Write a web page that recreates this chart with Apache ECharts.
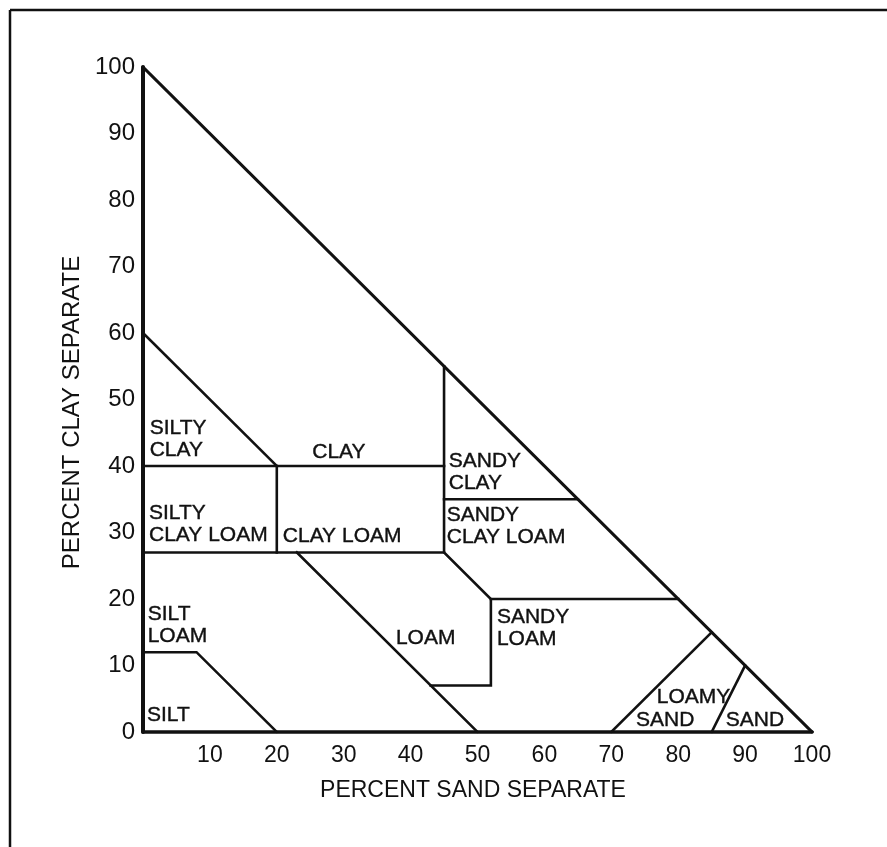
<!DOCTYPE html>
<html>
<head>
<meta charset="utf-8">
<script src="https://cdn.jsdelivr.net/npm/echarts@6/dist/echarts.min.js"></script>
<style>
html,body{margin:0;padding:0;background:#fff;}
#c{width:887px;height:847px;}
</style>
</head>
<body>
<div id="c"></div>
<script>
// Axis ticks
var sandTicks = [0, 10, 20, 30, 40, 50, 60, 70, 80, 90, 100];
var clayTicks = [0, 10, 20, 30, 40, 50, 60, 70, 80, 90, 100];

// Class boundaries: [percent sand, percent clay]
var hypotenuse     = [[0, 100], [100, 0]];
var siltyClayTop   = [[0, 60], [20, 40]];
var clay40         = [[0, 40], [45, 40]];
var sand20Vertical = [[20, 40], [20, 27]];
var clay27         = [[0, 27], [45, 27]];
var sandyBoundary  = [[45, 55], [45, 27], [52, 20], [52, 7], [43, 7]];
var clay35         = [[45, 35], [65, 35]];
var clay20         = [[52, 20], [80, 20]];
var loamDiagonal   = [[23, 27], [50, 0]];
var siltBoundary   = [[0, 12], [8, 12], [20, 0]];
var loamySandLine  = [[70, 0], [85, 15]];
var sandLine       = [[85, 0], [90, 10]];

var boundaries = [hypotenuse, siltyClayTop, clay40, sand20Vertical, clay27,
  sandyBoundary, clay35, clay20, loamDiagonal, siltBoundary, loamySandLine, sandLine];

// Region names and anchor points (left edge, vertical middle) in [sand, clay]
var regionNames = ['SILTY\nCLAY', 'CLAY', 'SANDY\nCLAY', 'SILTY\nCLAY LOAM', 'CLAY LOAM',
  'SANDY\nCLAY LOAM', 'SILT\nLOAM', 'LOAM', 'SANDY\nLOAM', 'SILT', 'LOAMY', 'SAND', 'SAND'];
var regionAnchors = [[1.0, 44.1], [25.3, 42.1], [45.7, 39.0], [0.9, 31.2], [20.9, 29.5],
  [45.4, 30.9], [0.7, 16.0], [37.8, 14.1], [52.9, 15.6], [0.6, 2.5], [76.8, 5.2], [73.7, 1.8], [87.1, 1.8]];

var INK = '#111';
var FONT = 'Liberation Sans, Arial, sans-serif';

var series = boundaries.map(function (pts) {
  return {
    type: 'line',
    data: pts,
    symbol: 'none',
    silent: true,
    lineStyle: { color: INK, width: pts === hypotenuse ? 3 : 2.6, cap: 'square', join: 'miter' },
    z: 3
  };
});

series.push({
  type: 'scatter',
  symbolSize: 0,
  silent: true,
  itemStyle: { opacity: 1, color: INK },
  data: regionAnchors.map(function (p, i) { return { value: p, name: regionNames[i] }; }),
  label: {
    show: true,
    position: 'inside',
    formatter: function (p) { return p.name; },
    align: 'left',
    verticalAlign: 'middle',
    color: INK,
    opacity: 1,
    fontFamily: FONT,
    fontSize: 21,
    lineHeight: 22,
    textBorderColor: INK,
    textBorderWidth: 0.4
  },
  z: 4
});

var chart = echarts.init(document.getElementById('c'), null, { renderer: 'canvas' });
chart.setOption({
  backgroundColor: '#fff',
  animation: false,
  grid: { left: 143, right: 75, top: 67, bottom: 115, containLabel: false },
  xAxis: {
    type: 'value',
    min: sandTicks[0],
    max: sandTicks[sandTicks.length - 1],
    interval: 10,
    name: 'PERCENT SAND SEPARATE',
    nameLocation: 'middle',
    nameGap: 47,
    nameTextStyle: { color: INK, fontFamily: FONT, fontSize: 23, padding: [0, 9, 0, 0] },
    axisLine: { show: true, lineStyle: { color: INK, width: 3.5 } },
    axisTick: { show: false },
    splitLine: { show: false },
    axisLabel: {
      color: INK, fontFamily: FONT, fontSize: 23, margin: 12,
      formatter: function (v) { return v === 0 ? '' : String(v); }
    }
  },
  yAxis: {
    type: 'value',
    min: clayTicks[0],
    max: clayTicks[clayTicks.length - 1],
    interval: 10,
    name: 'PERCENT CLAY SEPARATE',
    nameLocation: 'middle',
    nameRotate: 90,
    nameGap: 52,
    nameTextStyle: { color: INK, fontFamily: FONT, fontSize: 24, padding: [0, 26, 0, 0] },
    axisLine: { show: true, lineStyle: { color: INK, width: 4 } },
    axisTick: { show: false },
    splitLine: { show: false },
    axisLabel: { color: INK, fontFamily: FONT, fontSize: 24, margin: 8 }
  },
  graphic: [
    { type: 'line', shape: { x1: 10, y1: 10, x2: 887, y2: 10 }, style: { stroke: INK, lineWidth: 2.5 }, silent: true },
    { type: 'line', shape: { x1: 10, y1: 10, x2: 10, y2: 847 }, style: { stroke: INK, lineWidth: 2.5 }, silent: true }
  ],
  series: series
});
</script>
</body>
</html>
